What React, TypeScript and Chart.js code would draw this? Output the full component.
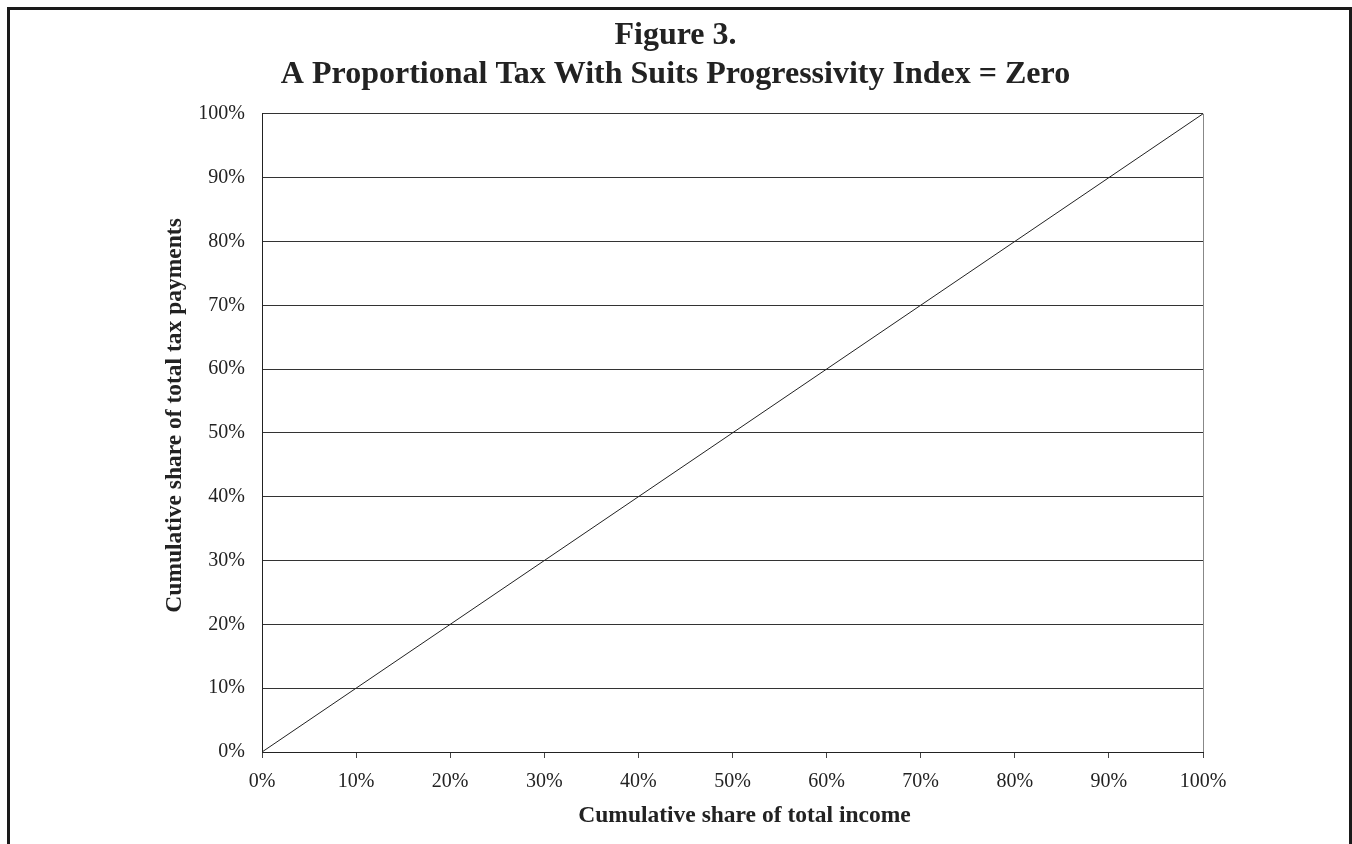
import React, { useEffect, useRef } from "react";
import { Chart, registerables } from "chart.js";

Chart.register(...registerables);

const incomeShare = [0, 10, 20, 30, 40, 50, 60, 70, 80, 90, 100];
const taxShare = [0, 10, 20, 30, 40, 50, 60, 70, 80, 90, 100];
const titleLines = ["Figure 3.", "A Proportional Tax With Suits Progressivity Index = Zero"];
const xAxisTitle = "Cumulative share of total income";
const yAxisTitle = "Cumulative share of total tax payments";

const FONT = "'Liberation Serif', 'Times New Roman', serif";
const INK = "#222";

const axisTitlePlugin = {
  id: "axisTitles",
  afterDraw(chart: any) {
    const { ctx, chartArea } = chart;
    const cx = (chartArea.left + chartArea.right) / 2;
    const cy = (chartArea.top + chartArea.bottom) / 2;
    ctx.save();
    ctx.fillStyle = INK;
    ctx.font = `bold 23.5px ${FONT}`;
    // x-axis title
    ctx.textAlign = "center";
    ctx.textBaseline = "alphabetic";
    ctx.fillText(xAxisTitle, cx + 12, 812);
    // y-axis title
    ctx.translate(164.5, cy - 17.5);
    ctx.rotate(-Math.PI / 2);
    ctx.textBaseline = "middle";
    ctx.fillText(yAxisTitle, 0, 0);
    ctx.restore();
  },
};

export default function App() {
  const ref = useRef<HTMLCanvasElement | null>(null);

  useEffect(() => {
    document.documentElement.style.overflow = "hidden";
    document.body.style.overflow = "hidden";
    const canvas = ref.current;
    if (!canvas) return;
    const chart = new Chart(canvas, {
      type: "line",
      data: {
        datasets: [
          {
            data: incomeShare.map((x, i) => ({ x, y: taxShare[i] })),
            borderColor: INK,
            borderWidth: 1,
            pointRadius: 0,
            fill: false,
            tension: 0,
          },
        ],
      },
      plugins: [axisTitlePlugin],
      options: {
        responsive: false,
        animation: false,
        devicePixelRatio: 1,
        layout: { padding: { left: 138, right: 146, top: 0, bottom: 38 } },
        plugins: {
          legend: { display: false },
          tooltip: { enabled: false },
          title: {
            display: true,
            text: titleLines,
            color: INK,
            font: { family: FONT, size: 32, weight: "bold", lineHeight: 1.2 },
            padding: { top: 7, bottom: 20 },
          },
        },
        scales: {
          x: {
            type: "linear",
            min: 0,
            max: 100,
            ticks: {
              stepSize: 10,
              color: INK,
              padding: 12,
              font: { family: FONT, size: 20, lineHeight: 1.2 },
              callback: (v: any) => v + "%",
            },
            grid: {
              color: (c: any) => (c.index === 10 ? "#888" : "rgba(0,0,0,0)"),
              tickColor: "#444",
              tickLength: 6,
              lineWidth: 1,
            },
            border: { display: true, color: INK, width: 1 },
          },
          y: {
            type: "linear",
            min: 0,
            max: 100,
            afterFit: (scale: any) => {
              scale.width = 114;
            },
            ticks: {
              stepSize: 10,
              color: INK,
              padding: 17,
              font: { family: FONT, size: 20, lineHeight: 1.2 },
              callback: (v: any) => v + "%",
            },
            grid: {
              color: "#333",
              drawTicks: false,
              lineWidth: 1,
            },
            border: { display: true, color: INK, width: 1 },
          },
        },
      },
    });
    return () => chart.destroy();
  }, []);

  return (
    <div
      style={{
        position: "fixed",
        left: 7,
        top: 7,
        width: 1345,
        height: 850,
        boxSizing: "border-box",
        border: "3px solid #1a1a1a",
        background: "#fff",
      }}
    >
      <canvas
        ref={ref}
        width={1339}
        height={834}
        style={{ position: "absolute", left: 0, top: 0, width: 1339, height: 834 }}
      />
    </div>
  );
}
